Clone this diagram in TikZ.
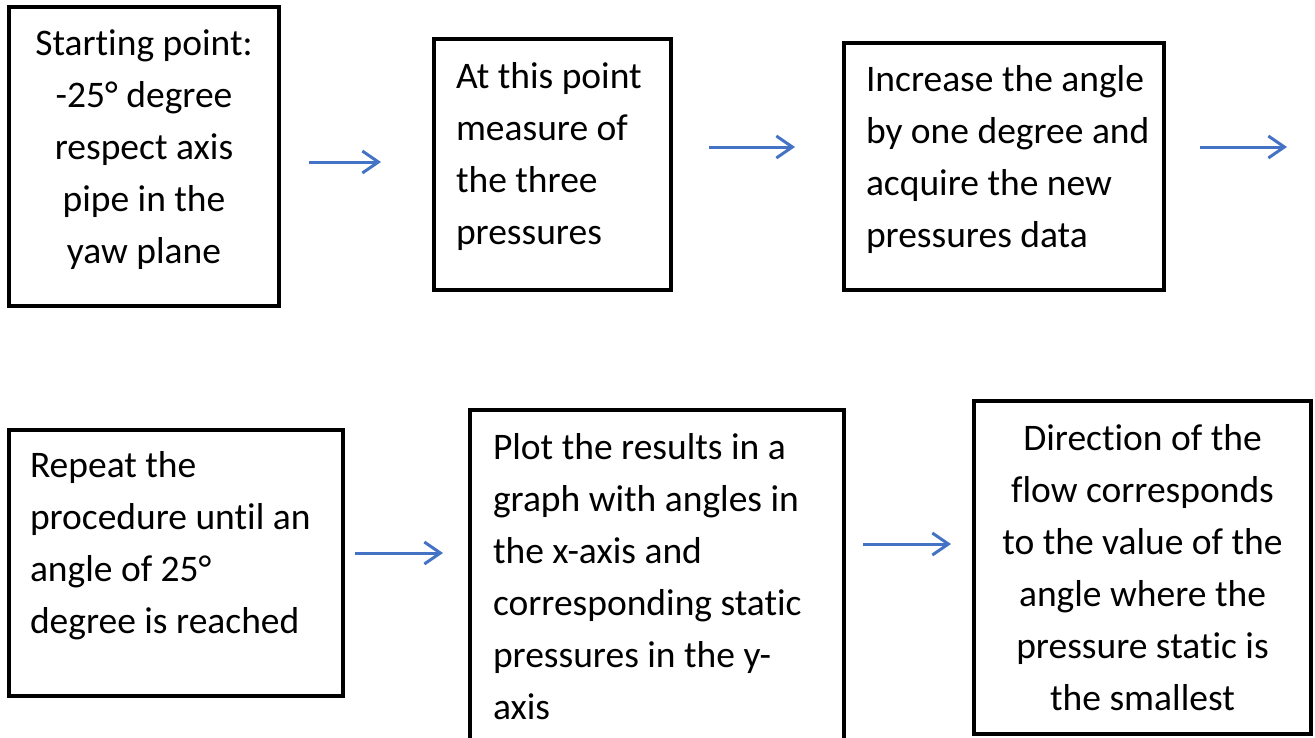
\documentclass[tikz,border=0pt]{standalone}
\usepackage{fontspec}
\setmainfont{Carlito}[Ligatures=NoCommon]
\usepackage{tikz}
\usetikzlibrary{arrows.meta,calc}

\definecolor{flowblue}{RGB}{68,114,196}

% box text: width, height, first baseline, alignment, text
\newcommand{\steptext}[5]{\parbox[c][#2pt][t]{#1pt}{#4\rule{0pt}{#3pt}#5}}
\newcommand{\leftpad}[1]{\leftskip=#1pt\rightskip=-40pt plus 1fil\parfillskip=0pt}

\begin{document}
\begin{tikzpicture}[x=1pt,y=-1pt]
    \tikzstyle{stepbox}=[draw=black,line width=4pt,inner sep=0pt,font=\fontsize{37.5}{52}\selectfont]
    \tikzstyle{flow}=[draw=flowblue,line width=3pt,-{Straight Barb[length=16pt,width=22pt]}]

    \useasboundingbox (0,0) rectangle (1315,737);

    % first row
    \node[stepbox,minimum width=270pt,minimum height=299pt](start) at (144,156.5)
        {\steptext{270}{299}{48}{\centering}{Starting point:\\ -25° degree\\ respect axis\\ pipe in the\\ yaw plane}};
    \node[stepbox,minimum width=237pt,minimum height=251pt](measure) at (552.5,164.5)
        {\steptext{237}{251}{49}{\leftpad{22}}{At this point\\ measure of\\ the three\\ pressures}};
    \node[stepbox,minimum width=320pt,minimum height=247pt](increase) at (1004,166.5)
        {\steptext{320}{247}{48}{\leftpad{22}}{Increase the angle\\ by one degree and\\ acquire the new\\ pressures data}};

    % second row
    \node[stepbox,minimum width=334pt,minimum height=266pt](repeat) at (176,563)
        {\steptext{334}{266}{47}{\leftpad{21}}{Repeat the\\ procedure until an\\ angle of 25°\\ degree is reached}};
    \node[stepbox,minimum width=374pt,minimum height=368pt](plot) at (657,594)
        {\steptext{374}{368}{49}{\leftpad{23}}{Plot the results in a\\ graph with angles in\\ the x-axis and\\ corresponding static\\ pressures in the y-\\ axis}};
    \node[stepbox,minimum width=337pt,minimum height=333pt](direction) at (1142.5,567.5)
        {\steptext{337}{333}{49}{\centering}{Direction of the\\ flow corresponds\\ to the value of the\\ angle where the\\ pressure static is\\ the smallest}};

    \coordinate (next) at ($(increase.east)+(121,-19.5)$);

    \draw[flow,shorten <=28pt,shorten >=51pt] ([yshift=-5.5pt]start.east) -- ([yshift=-5.5pt]start.east -| measure.west);
    \draw[flow,shorten <=36pt,shorten >=47pt] ([yshift=17.5pt]measure.east) -- ([yshift=17.5pt]measure.east -| increase.west);
    \draw[flow,shorten <=34pt] ([yshift=19.5pt]increase.east) -- (next);
    \draw[flow,shorten <=10pt,shorten >=25pt] ([yshift=10pt]repeat.east) -- ([yshift=10pt]repeat.east -| plot.west);
    \draw[flow,shorten <=17pt,shorten >=21pt] ([yshift=50pt]plot.east) -- ([yshift=50pt]plot.east -| direction.west);

\end{tikzpicture}
\end{document}
